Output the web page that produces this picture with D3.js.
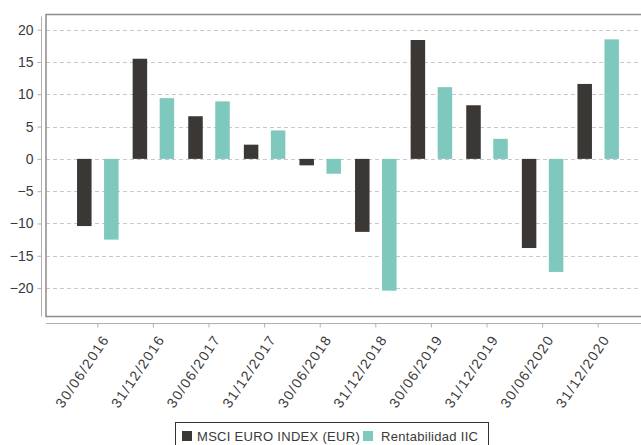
<!DOCTYPE html>
<html>
<head>
<meta charset="utf-8">
<script src="https://cdn.jsdelivr.net/npm/d3@7"></script>
<style>
  html, body { margin: 0; padding: 0; background: #fff; }
  svg { display: block; }
  text { font-family: "Liberation Sans", Arial, sans-serif; fill: #3a3a3a; }
</style>
</head>
<body>
<script>
// Semi-annual returns, MSCI EURO index vs. fund
const categories = ["30/06/2016", "31/12/2016", "30/06/2017", "31/12/2017", "30/06/2018",
                    "31/12/2018", "30/06/2019", "31/12/2019", "30/06/2020", "31/12/2020"];
const seriesNames = ["MSCI EURO INDEX (EUR)", "Rentabilidad IIC"];
const msciValues = [-10.4, 15.5, 6.6, 2.2, -1.0, -11.3, 18.4, 8.3, -13.8, 11.6];
const fundValues = [-12.5, 9.4, 8.9, 4.4, -2.3, -20.4, 11.1, 3.1, -17.5, 18.5];
const yTicks = [-20, -15, -10, -5, 0, 5, 10, 15, 20];
const colors = ["#3a3734", "#7ec8bd"];

const W = 641, H = 445;
const frame = { left: 46, top: 14.5, bottom: 316.5 };

const svg = d3.select("body").append("svg").attr("width", W).attr("height", H);

const rows = categories.map((c, i) => ({ cat: c, values: [msciValues[i], fundValues[i]] }));

const y = d3.scaleLinear().domain([-24.4, 22.35]).range([frame.bottom, frame.top]);
const x0 = d3.scaleBand().domain(categories).range([70, 626]);
const x1 = d3.scaleBand().domain(seriesNames).range([0, x0.bandwidth()])
  .paddingInner(0.463).paddingOuter(0.261);

// dashed grid
svg.append("g").selectAll("line").data(yTicks).join("line")
  .attr("x1", frame.left).attr("x2", W)
  .attr("y1", d => Math.round(y(d)) + 0.5).attr("y2", d => Math.round(y(d)) + 0.5)
  .attr("stroke", "#c9c9c9").attr("stroke-width", 1).attr("stroke-dasharray", "4,3");

// bars
const groups = svg.append("g").selectAll("g").data(rows).join("g")
  .attr("transform", d => `translate(${x0(d.cat)},0)`);
groups.selectAll("rect").data(d => d.values.map((v, k) => ({ v, name: seriesNames[k], k })))
  .join("rect")
  .attr("x", d => x1(d.name))
  .attr("width", x1.bandwidth())
  .attr("y", d => y(Math.max(0, d.v)))
  .attr("height", d => Math.abs(y(d.v) - y(0)))
  .attr("fill", d => colors[d.k]);

// plot frame
svg.append("rect")
  .attr("x", frame.left).attr("y", frame.top)
  .attr("width", 700).attr("height", frame.bottom - frame.top)
  .attr("fill", "none").attr("stroke", "#8c8c8c").attr("stroke-width", 1.5);

// y axis
const yAxis = d3.axisLeft(y).tickValues(yTicks).tickSize(4).tickPadding(4);
const gy = svg.append("g").attr("transform", "translate(41.5,0)").call(yAxis);
gy.select(".domain").attr("stroke", "#b0b0b0").attr("d", `M0,${frame.top + 2}V${frame.bottom}`);
gy.selectAll(".tick line").attr("stroke", "#b0b0b0");
gy.selectAll(".tick text").attr("font-size", 14).attr("fill", "#3a3a3a")
  .attr("font-family", "Liberation Sans, Arial, sans-serif");

// x axis
const xAxis = d3.axisBottom(x0).tickSize(4).tickPadding(6).tickSizeOuter(0);
const gx = svg.append("g").attr("transform", "translate(0,323.5)").call(xAxis);
gx.select(".domain").attr("stroke", "#b0b0b0").attr("d", `M${frame.left},0H${W}`);
gx.selectAll(".tick line").attr("stroke", "#b0b0b0");
gx.selectAll(".tick text")
  .attr("font-size", 14).attr("fill", "#3a3a3a")
  .attr("font-family", "Liberation Sans, Arial, sans-serif")
  .attr("letter-spacing", "1.4px")
  .attr("text-anchor", "end")
  .attr("dy", "0.35em")
  .attr("transform", "translate(8,13) rotate(-56)")
  .attr("x", 0).attr("y", 0);

// legend
const lg = svg.append("g");
lg.append("rect").attr("x", 175.5).attr("y", 422.5).attr("width", 313).attr("height", 30)
  .attr("fill", "#fff").attr("stroke", "#333").attr("stroke-width", 1);
const legendItems = [
  { name: seriesNames[0], sx: 182, tx: 197 },
  { name: seriesNames[1], sx: 363, tx: 381 }
];
legendItems.forEach((d, i) => {
  lg.append("rect").attr("x", d.sx).attr("y", 431).attr("width", 10).attr("height", 10)
    .attr("fill", colors[i]);
  lg.append("text").attr("x", d.tx).attr("y", 441).attr("font-size", 13)
    .attr("letter-spacing", "0.3px").text(d.name);
});
</script>
</body>
</html>
